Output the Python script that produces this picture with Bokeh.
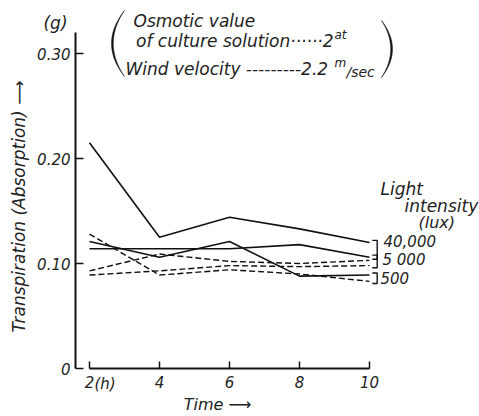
import numpy as np
from bokeh.plotting import figure
from bokeh.models import Label, FixedTicker, Range1d
from bokeh.embed import file_html
from bokeh.resources import INLINE

# ---- data ----
time_h = [2, 4, 6, 8, 10]
solid_a = [0.215, 0.125, 0.144, 0.133, 0.120]
solid_b = [0.114, 0.114, 0.114, 0.118, 0.106]
solid_c = [0.121, 0.106, 0.121, 0.088, 0.089]
dashed_d = [0.128, 0.089, 0.094, 0.090, 0.083]
dashed_e = [0.093, 0.109, 0.102, 0.100, 0.103]
dashed_f = [0.089, 0.093, 0.098, 0.097, 0.098]
y_ticks = [0, 0.1, 0.2, 0.3]
y_tick_labels = ["0", "0.10", "0.20", "0.30"]
x_tick_labels = ["2", "4", "6", "8", "10"]
light_labels = ["40,000", "5 000", "500"]

FONT = "DejaVu Sans"
W, H = 479, 416
PX_PER_X = 35.0
PX_PER_Y = 1050.0
AXIS_PX, ZERO_PY = 75, 368
X0 = 1.6


def X(px):  # canvas px -> data x
    return X0 + (px - AXIS_PX) / PX_PER_X


def Y(py):  # canvas py -> data y
    return (ZERO_PY - py) / PX_PER_Y


p = figure(width=W, height=H, output_backend="svg", toolbar_location=None,
           x_range=Range1d(X(0), X(W)), y_range=Range1d(Y(H), Y(0)),
           min_border=0)
p.outline_line_color = None
p.grid.visible = False
p.background_fill_color = "white"
p.border_fill_color = "white"

# axes
p.yaxis.fixed_location = X0
p.yaxis.bounds = (0, 0.32)
p.yaxis.ticker = FixedTicker(ticks=y_ticks)
p.yaxis.major_label_overrides = {t: l for t, l in zip(y_ticks, y_tick_labels)}
p.yaxis.major_tick_in = 8
p.yaxis.major_tick_out = 0
p.yaxis.minor_tick_line_color = None
p.yaxis.axis_line_width = 2
p.yaxis.major_tick_line_width = 1.5
p.yaxis.major_label_standoff = 5

p.xaxis.fixed_location = 0
p.xaxis.bounds = (2, 10)
p.xaxis.ticker = FixedTicker(ticks=time_h)
p.xaxis.major_label_overrides = {t: l for t, l in zip(time_h, x_tick_labels)}
p.xaxis.major_tick_in = 7
p.xaxis.major_tick_out = 0
p.xaxis.minor_tick_line_color = None
p.xaxis.axis_line_width = 2
p.xaxis.major_tick_line_width = 1.5
p.xaxis.major_label_standoff = 7

for ax in (p.xaxis, p.yaxis):
    ax.major_label_text_font = FONT
    ax.major_label_text_font_style = "italic"
    ax.major_label_text_font_size = "15px"
    ax.major_label_text_color = "#222222"
    ax.axis_line_color = "#111111"
    ax.major_tick_line_color = "#111111"

# series
for ys in (solid_a, solid_b, solid_c):
    p.line(time_h, ys, line_color="#111111", line_width=1.6)
for ys in (dashed_d, dashed_e, dashed_f):
    p.line(time_h, ys, line_color="#111111", line_width=1.4, line_dash="6 3")

# brackets at the line ends
groups = [(solid_a[-1], solid_b[-1]), (solid_b[-1], dashed_f[-1]),
          (solid_c[-1], dashed_d[-1])]
bx = [[10.08, 10.22, 10.22, 10.08] for _ in groups]
by = [[g[0] + 0.002, g[0] + 0.002, g[1] - 0.002, g[1] - 0.002] for g in groups]
p.multi_line(bx, by, line_color="#111111", line_width=1.4)


def lab(text, px, py, size="15px", align="left", angle=0, style="italic"):
    p.add_layout(Label(x=X(px), y=Y(py), text=text, text_font=FONT,
                       text_font_size=size, text_font_style=style,
                       text_align=align, text_baseline="middle",
                       angle=angle, text_color="#222222"))


# light intensity legend
lab("Light", 380, 188, size="17px")
lab("intensity", 404, 205, size="17px")
lab("(lux)", 418, 222, size="16px")
for t, py, px in zip(light_labels, [240, 259, 277], [383, 382, 380]):
    lab(t, px, py)

# axis titles
lab("Transpiration (Absorption) \u27f6", 18, 206, size="17px", align="center",
    angle=np.pi / 2)
lab("Time \u27f6", 217, 404, size="16px", align="center")
lab("(h)", 94, 383)
lab("(g)", 55, 22, size="17px", align="center")

# condition note
lab("Osmotic value", 133, 20, size="17px")
lab("of culture solution\u00b7\u00b7\u00b7\u00b7\u00b7\u00b72", 333, 40,
    size="17px", align="right")
lab("at", 334, 34, size="12px")
lab("Wind velocity  ---------2.2", 333, 68, size="17px", align="right")
lab("m", 334, 62, size="12px")
lab("/sec", 346, 71, size="14px")


def paren(x_tip, x_bulge, y_top, y_bot, width=1.8):
    t = np.linspace(-1, 1, 40)
    yc = (y_top + y_bot) / 2
    hh = (y_bot - y_top) / 2
    ys = yc + hh * t
    d = x_bulge - x_tip
    outer = x_tip + d * (1 - t ** 2)
    inner = x_tip + (d - np.sign(d) * width) * (1 - t ** 2)
    xs = np.concatenate([outer, inner[::-1]])
    yy = np.concatenate([ys, ys[::-1]])
    p.patch([X(v) for v in xs], [Y(v) for v in yy], fill_color="#111111",
            line_color="#111111", line_width=0.5)


paren(124, 111, 10, 76)
paren(381, 392, 20, 77)

open("out.html", "w").write(file_html(p, INLINE))
